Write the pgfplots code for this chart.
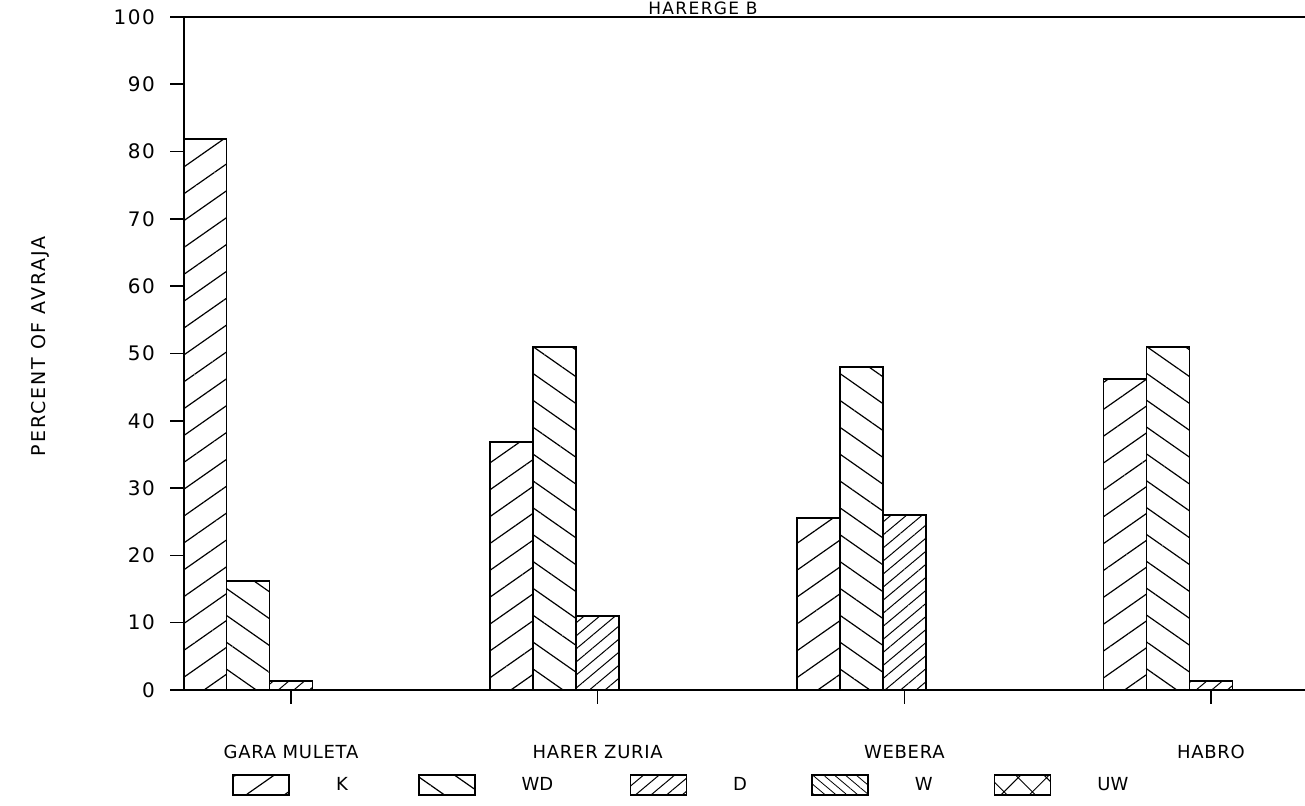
\documentclass[border=0pt]{standalone}
\usepackage{fontspec}
\setmainfont{DejaVu Sans}
\usepackage{pgfplots}
\pgfplotsset{compat=1.18}
\usetikzlibrary{patterns.meta}

\pgfplotstableread{
x K WD D
0 81.9 16.2 1.3
1 36.9 51.0 11.0
2 25.5 48.0 26.0
3 46.2 51.0 1.3
}\datatable

\tikzset{
  patK/.style={pattern={Lines[angle=35,distance=11pt,line width=0.6pt]}},
  patWD/.style={pattern={Lines[angle=-35,distance=11pt,line width=0.6pt]}},
  patD/.style={pattern={Lines[angle=40,distance=5pt,line width=0.5pt]}},
  patW/.style={pattern={Lines[angle=-40,distance=3.5pt,line width=0.4pt]}},
  patUW/.style={pattern={Hatch[angle=45,distance=10pt,line width=0.5pt]}},
}
\pgfplotsset{
  mylegend/.style={legend image code/.code={\draw[##1,draw=black,line width=0.8pt] (0pt,-5pt) rectangle (28pt,5pt);}},
}

\begin{document}
\begin{tikzpicture}
\useasboundingbox (0,0) rectangle (652.5pt,403pt);
\node[anchor=base, inner sep=0pt, font=\fontsize{8.5}{10}\selectfont\addfontfeature{LetterSpace=8}] at (351.5pt,395.5pt) {HARERGE B};
\begin{axis}[
  at={(92pt,58pt)}, anchor=south west,
  scale only axis, width=573pt, height=336.5pt,
  xmin=-0.349, xmax=3.388, ymin=0, ymax=100,
  ytick={0,10,...,100},
  xtick={0,1,2,3},
  xticklabels={GARA MULETA, HARER ZURIA, WEBERA, HABRO},
  tick pos=left, tick align=outside, major tick length=7pt,
  axis line style={line width=1pt},
  every tick/.style={black, line width=0.8pt},
  yticklabel style={font=\fontsize{10}{12}\selectfont\addfontfeature{LetterSpace=8}, xshift=-4pt},
  /pgf/number format/assume math mode=true,
  xticklabel style={font=\fontsize{9}{10}\selectfont\addfontfeature{LetterSpace=4}, yshift=-17pt},
  ylabel={PERCENT OF AVRAJA},
  ylabel style={at={(axis description cs:-0.1257,0.511)}, anchor=center, font=\fontsize{9.5}{11}\selectfont\addfontfeature{LetterSpace=10}},
  ybar, bar width=21.5pt,
  legend columns=5,
  legend style={at={(axis description cs:0.0419,-0.1412)}, anchor=west, draw=none, inner sep=0pt,
    font=\fontsize{9}{10}\selectfont,
    nodes={inner xsep=0pt, align=left},
    /tikz/every odd column/.append style={column sep=23pt},
    /tikz/every even column/.append style={column sep=0pt}},
]
\addplot[draw=black, line width=0.9pt, patK, bar shift=-43pt, mylegend] table[x=x,y=K] {\datatable};
\addlegendentry[text width=41pt]{K}
\addplot[draw=black, line width=0.9pt, patWD, bar shift=-21.5pt, mylegend] table[x=x,y=WD] {\datatable};
\addlegendentry[text width=54pt]{WD}
\addplot[draw=black, line width=0.9pt, patD, bar shift=0pt, mylegend] table[x=x,y=D] {\datatable};
\addlegendentry[text width=39pt]{D}
\addlegendimage{patW, mylegend}
\addlegendentry[text width=39.5pt]{W}
\addlegendimage{patUW, mylegend}
\addlegendentry[text width=30pt]{UW}
\end{axis}
\end{tikzpicture}
\end{document}
